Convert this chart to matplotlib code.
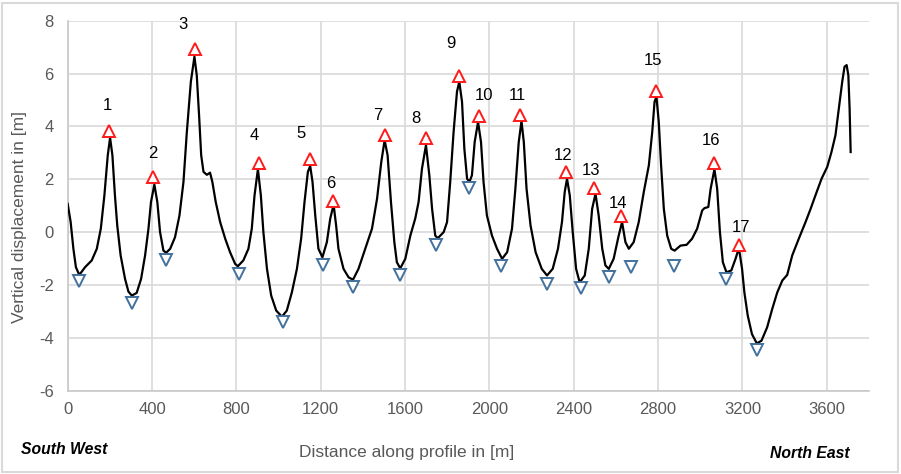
import matplotlib
matplotlib.use("Agg")
import matplotlib.pyplot as plt
from matplotlib.patches import Rectangle

# ---- profile line (distance [m], vertical displacement [m]) ----
dist = [0, 14, 27, 39, 55, 82, 114, 138, 157, 174, 190, 201, 212, 224, 235, 251, 272, 288, 304, 327,
        348, 367, 383, 395, 411, 425, 438, 454, 467, 486, 509, 530, 549, 565, 584, 601, 612,
        623, 633, 644, 660, 675, 686, 702, 723, 747, 770, 794, 807, 833, 857, 873, 886, 902, 916,
        928, 945, 965, 989, 1016, 1039, 1063, 1087, 1107, 1123, 1139, 1150, 1161, 1174, 1189, 1208,
        1229, 1245, 1261,
        1273, 1284, 1308, 1332, 1353, 1379, 1411, 1443, 1467, 1487, 1503, 1517, 1533, 1549, 1561,
        1577, 1601, 1625, 1648, 1664, 1680, 1699, 1715, 1728, 1743, 1755, 1783, 1799, 1814, 1830,
        1846, 1857, 1870, 1881, 1894,
        1905, 1917, 1930, 1946, 1960, 1972, 1988, 2012, 2036, 2060, 2084, 2107, 2123, 2139, 2152,
        2163, 2176, 2195, 2219, 2248, 2273, 2300, 2325, 2344, 2357, 2368, 2381, 2395, 2411, 2428,
        2452, 2471, 2487, 2503, 2518, 2535,
        2550, 2566, 2589, 2613, 2629, 2645, 2661, 2684, 2708, 2732, 2756, 2772, 2783, 2792, 2803,
        2814, 2827, 2843, 2862, 2878, 2906, 2935, 2961, 2985, 3009, 3020, 3038, 3049, 3067, 3080,
        3093, 3107, 3124, 3147, 3167,
        3183, 3198, 3209, 3225, 3245, 3268, 3290, 3317, 3341, 3365, 3389, 3412, 3436, 3467, 3499,
        3523, 3546, 3575, 3602, 3622, 3641, 3657, 3673, 3684, 3694, 3702, 3708, 3713]
disp = [1.07, 0.38, -0.63, -1.33, -1.62, -1.33, -1.07, -0.63, 0.13, 1.39, 2.91, 3.57, 2.91, 1.39, 0.25,
        -0.88, -1.77, -2.25, -2.40, -2.30, -1.77, -0.88, 0.13, 1.14, 1.80, 1.14, 0.0, -0.70, -0.78,
        -0.63, -0.19, 0.63, 1.90, 3.79, 5.69, 6.64, 5.94,
        4.42, 2.91, 2.28, 2.17, 2.25, 1.90, 1.14, 0.38, -0.25, -0.76, -1.20, -1.29, -1.07, -0.63,
        0.13, 1.39, 2.38, 1.39, 0.0, -1.39, -2.40, -2.97, -3.20, -2.97, -2.28, -1.39, -0.25, 1.14,
        2.28, 2.50, 1.90, 0.63, -0.63, -0.95, -0.38, 0.51, 1.04,
        0.25, -0.63, -1.39, -1.71, -1.80, -1.39, -0.63, 0.13, 1.26, 2.65, 3.48, 2.91, 1.14, -0.38,
        -1.14, -1.37, -1.01, -0.13, 0.51, 1.14, 2.40, 3.29, 2.15, 0.88, -0.13, -0.23, 0.0, 0.38,
        1.90, 3.79, 5.31, 5.69, 4.93, 3.16, 2.02,
        1.90, 2.15, 3.41, 4.17, 3.41, 1.90, 0.63, -0.13, -0.63, -1.01, -0.76, 0.13, 1.64, 3.41, 4.20,
        3.41, 1.64, 0.25, -0.76, -1.39, -1.64, -1.39, -0.63, 0.38, 1.52, 2.02, 1.39, 0.0, -1.39,
        -1.90, -1.64, -0.63, 0.88, 1.45, 0.63, -0.63,
        -1.26, -1.39, -1.01, -0.13, 0.38, -0.38, -0.63, -0.38, 0.38, 1.52, 2.53, 3.79, 4.93, 5.12,
        4.17, 2.53, 0.88, -0.13, -0.63, -0.70, -0.51, -0.48, -0.25, 0.13, 0.82, 0.91, 0.95, 1.64,
        2.38, 1.64, 0.0, -1.14, -1.52, -1.45, -1.01,
        -0.60, -1.39, -2.28, -3.16, -3.86, -4.21, -4.11, -3.60, -2.91, -2.28, -1.83, -1.62, -0.88,
        -0.25, 0.38, 0.88, 1.39, 2.02, 2.47, 3.03, 3.67, 4.68, 5.69, 6.26, 6.32, 5.94, 4.68, 3.03]

# ---- peak markers (numbered) ----
peak_x = [196, 403, 604, 905, 1150, 1258, 1506, 1701, 1857, 1951, 2147, 2365, 2496, 2626, 2789, 3066, 3183]
peak_y = [3.83, 2.09, 6.92, 2.63, 2.76, 1.16, 3.67, 3.57, 5.91, 4.40, 4.43, 2.28, 1.68, 0.61, 5.35, 2.62, -0.47]
peak_labels = [str(i) for i in range(1, 18)]

# ---- trough markers ----
trough_x = [52, 305, 467, 810, 1019, 1209, 1354, 1576, 1745, 1905, 2055, 2272, 2433, 2569, 2671, 2873, 3124, 3269]
trough_y = [-1.84, -2.68, -1.05, -1.59, -3.41, -1.24, -2.09, -1.64, -0.48, 1.67, -1.27, -1.96, -2.12,
            -1.68, -1.33, -1.30, -1.77, -4.46]

x_ticks = [0, 400, 800, 1200, 1600, 2000, 2400, 2800, 3200, 3600]
y_ticks = [-6, -4, -2, 0, 2, 4, 6, 8]

# label offsets in pixels (layout)
label_offsets = [(-2, 25), (0, 23), (-12, 25), (-4, 27), (-9, 26), (-2, 18), (-8, 20), (-11, 19),
                 (-8, 32), (5, 20), (-3, 20), (-3, 16), (-3, 17), (-3, 13), (-3, 30), (-3, 22), (2, 17)]

plt.rcParams['font.family'] = ['Liberation Sans', 'DejaVu Sans']
plt.rcParams['axes.unicode_minus'] = False

W, H = 901, 474
fig = plt.figure(figsize=(W / 100, H / 100), dpi=100)
ax = fig.add_axes([67.7 / W, 1 - 390.7 / H, (869 - 67.7) / W, (390.7 - 20.7) / H])

grid_c = '#d9d9d9'
text_c = '#595959'

ax.set_xlim(0, 3800)
ax.set_ylim(-6, 8)
ax.set_xticks(x_ticks)
ax.set_yticks(y_ticks)
ax.grid(True, color=grid_c, linewidth=1.2)
ax.set_axisbelow(True)
for s in ['top', 'right']:
    ax.spines[s].set_visible(False)
for s in ['left', 'bottom']:
    ax.spines[s].set_color('#c8c8c8')
    ax.spines[s].set_linewidth(1.2)
ax.tick_params(length=0, labelsize=12, labelcolor=text_c)
ax.tick_params(axis='y', pad=10)
ax.tick_params(axis='x', pad=8)

ax.plot(dist, disp, color='black', linewidth=1.6, zorder=3, solid_joinstyle='round')
ax.plot(peak_x, peak_y, linestyle='none', marker='^', markersize=9, markerfacecolor='white',
        markeredgecolor='#ff1a1a', markeredgewidth=1.4, zorder=4)
ax.plot(trough_x, trough_y, linestyle='none', marker='v', markersize=9, markerfacecolor='white',
        markeredgecolor='#41719c', markeredgewidth=1.4, zorder=4)

for px, py, lab, off in zip(peak_x, peak_y, peak_labels, label_offsets):
    ax.annotate(lab, (px, py), xytext=off, textcoords='offset pixels', ha='center', va='center',
                fontsize=12, color='black', zorder=5)

fig.text(20 / W, 1 - 217 / H, 'Vertical displacement in [m]', rotation=90, ha='center', va='center',
         fontsize=12.5, color=text_c)
fig.text(407 / W, 1 - 452 / H, 'Distance along profile in [m]', ha='center', va='center',
         fontsize=12.5, color=text_c)
fig.text(21 / W, 1 - 450 / H, 'South West', ha='left', va='center', fontsize=11.3,
         fontweight='bold', fontstyle='italic', color='black')
fig.text(850 / W, 1 - 453 / H, 'North East', ha='right', va='center', fontsize=11.3,
         fontweight='bold', fontstyle='italic', color='black')

fig.patches.append(Rectangle((1.5 / W, 2.5 / H), (897.5 - 1.5) / W, (471 - 2.5) / H,
                             transform=fig.transFigure, fill=False, edgecolor='#d9d9d9',
                             linewidth=1.5))

fig.savefig('out.png', dpi=100)
